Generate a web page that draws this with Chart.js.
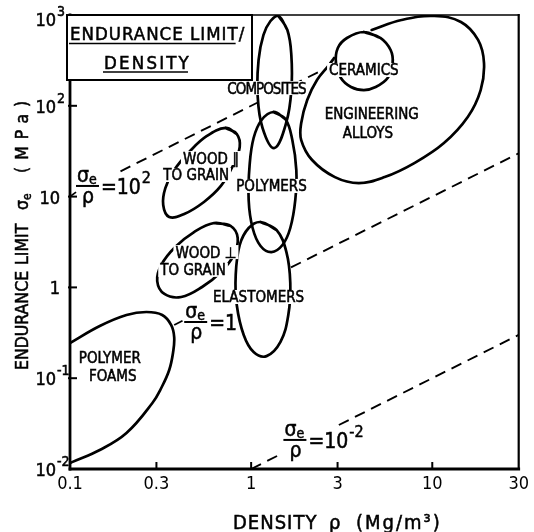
<!DOCTYPE html>
<html>
<head>
<meta charset="utf-8">
<script src="https://cdn.jsdelivr.net/npm/chart.js@4.4.1/dist/chart.umd.min.js"></script>
<style>
  html, body { margin: 0; background: #fff; }
  #wrap { width: 534px; height: 532px; }
</style>
</head>
<body>
<div id="wrap"><canvas id="ashby" width="534" height="532"></canvas></div>
<script>
// outline points of each material class, [density Mg/m^3, endurance limit MPa]
const polymerFoams = [[0.1, 0.244], [0.146, 0.376], [0.205, 0.497], [0.264, 0.536], [0.323, 0.497], [0.362, 0.385],
  [0.376, 0.284], [0.371, 0.194], [0.353, 0.123], [0.319, 0.078], [0.285, 0.0533], [0.205, 0.0249],
  [0.146, 0.0162], [0.1026, 0.0119], [0.1, 0.0116]];
const composites = [[1.416, 975], [1.585, 684], [1.667, 362], [1.667, 149], [1.566, 66.4], [1.345, 34.3],
  [1.156, 57], [1.086, 131], [1.099, 319], [1.17, 603], [1.279, 859]];
const polymers = [[1.328, 85.5], [1.545, 71.6], [1.688, 42.0], [1.776, 19.6], [1.753, 9.18], [1.645, 4.51],
  [1.489, 2.93], [1.295, 2.45], [1.127, 2.86], [1.019, 4.51], [0.969, 9.18], [0.981, 22.3], [1.032, 44.2], [1.142, 69.8]];
const elastomers = [[1.127, 5.25], [1.38, 4.29], [1.566, 2.45], [1.645, 1.117], [1.604, 0.497], [1.452, 0.251],
  [1.216, 0.175], [1.032, 0.194], [0.91, 0.299], [0.833, 0.64], [0.822, 1.37], [0.865, 2.93], [0.969, 4.51]];
const woodParallel = [[0.724, 57.0], [0.833, 48.9], [0.865, 35.2], [0.792, 21.7], [0.681, 13.1], [0.549, 8.73],
  [0.427, 6.43], [0.353, 5.96], [0.327, 8.08], [0.336, 12.4], [0.376, 19.6], [0.455, 31.0], [0.57, 46.5]];
const woodPerpendicular = [[0.624, 5.12], [0.773, 4.74], [0.843, 3.5], [0.802, 2.27], [0.681, 1.48], [0.536, 1.01],
  [0.411, 0.784], [0.332, 0.846], [0.303, 1.175], [0.319, 1.77], [0.381, 2.79], [0.484, 4.07]];
const ceramics = [[4.19, 650], [5.19, 558], [5.89, 412], [6.04, 296], [5.67, 202], [4.87, 161], [4.19, 149],
  [3.56, 161], [3.13, 202], [2.94, 296], [3.01, 433], [3.38, 558]];
const engAlloys = [[4.63, 684], [6.76, 881], [10.26, 975], [14.4, 837], [17.9, 531], [19.3, 296], [18.5, 149],
  [15.7, 75.3], [11.6, 38.9], [7.96, 23.4], [5.46, 16.4], [3.93, 14.1], [2.9, 16.4], [2.17, 25.3], [1.89, 42.0],
  [1.89, 64.7], [2.04, 116], [2.31, 192], [2.69, 281], [2.87, 336]];

// guide lines sigma_e / rho = const, drawn over the density spans where they show
const guideRatios = [100, 1, 0.01];
const guideSpans = [[[0.19, 1.08], [1.68, 2.5]], [[1.66, 30]], [[1, 1.45], [3.05, 30]]];
// ratio labels: bar anchor [density, endurance], right-hand side, exponent
const ratioLabels = [[0.1079, 13.1, '=10', '2'], [0.427, 0.416, '=1', ''], [1.507, 0.0209, '=10', '-2']];
const leaders = [[[0.1, 10], [0.108, 11.2]], [[0.376, 0.385], [0.418, 0.43]]];

const xTicks = [0.1, 0.3, 1, 3, 10, 30];
const yTicks = [0.01, 0.1, 1, 10, 100, 1000];
const yTickText = [['10', '-2'], ['10', '-1'], ['1', ''], ['10', ''], ['10', '2'], ['10', '3']];

const classLabels = [
  ['COMPOSITES', 1.216, 157], ['CERAMICS', 4.19, 248], ['ENGINEERING', 4.63, 83.3], ['ALLOYS', 4.41, 51.4],
  ['POLYMERS', 1.295, 13.1], ['ELASTOMERS', 1.099, 0.784], ['WOOD \u2225', 0.6, 26.6], ['TO GRAIN', 0.497, 17.3],
  ['WOOD \u22A5', 0.563, 2.45], ['TO GRAIN', 0.478, 1.56], ['POLYMER', 0.166, 0.171], ['FOAMS', 0.172, 0.108]
];

const FONT = '"DejaVu Sans Condensed", "DejaVu Sans", sans-serif';
const toXY = pts => pts.map(p => ({x: p[0], y: p[1]}));
// repeat the first two points so the spline closes smoothly
const closed = pts => toXY([...pts, pts[0], pts[1]]);

const outline = (data) => ({
  data, showLine: true, pointRadius: 0, borderColor: '#000', borderWidth: 2.7,
  tension: 0.4, borderCapStyle: 'round', borderJoinStyle: 'round', fill: false
});

const datasets = [
  outline(toXY(polymerFoams)),
  outline(closed(composites)),
  outline(closed(polymers)),
  outline(closed(elastomers)),
  outline(closed(woodParallel)),
  outline(closed(woodPerpendicular)),
  outline(closed(ceramics)),
  outline(toXY(engAlloys))
];
guideRatios.forEach((c, i) => {
  for (const [a, b] of guideSpans[i]) {
    datasets.push({
      data: [{x: a, y: c * a}, {x: b, y: c * b}], showLine: true, pointRadius: 0,
      borderColor: '#000', borderWidth: 1.9, borderDash: [11, 7], tension: 0
    });
  }
});
for (const l of leaders) {
  datasets.push({data: toXY(l), showLine: true, pointRadius: 0, borderColor: '#000', borderWidth: 1.8, tension: 0});
}

// filled text with a hairline stroke, a bit heavier than the plain face
function ink(ctx, text, x, y) {
  ctx.fillText(text, x, y);
  ctx.lineWidth = 0.5;
  ctx.strokeText(text, x, y);
}

function drawRatio(ctx, x, y, rhs, exp) {
  ctx.save();
  ctx.fillStyle = '#000';
  ctx.strokeStyle = '#000';
  ctx.textAlign = 'left';
  ctx.textBaseline = 'alphabetic';
  ctx.font = '21px ' + FONT;
  ink(ctx, '\u03C3', x + 1, y - 4);
  const sw = ctx.measureText('\u03C3').width;
  ctx.font = '14px ' + FONT;
  ink(ctx, 'e', x + 1 + sw, y - 2);
  ctx.lineWidth = 2;
  ctx.beginPath();
  ctx.moveTo(x, y);
  ctx.lineTo(x + 23, y);
  ctx.stroke();
  ctx.font = '21px ' + FONT;
  ctx.textAlign = 'center';
  ink(ctx, '\u03C1', x + 12, y + 17);
  ctx.textAlign = 'left';
  const tx = x + 25;
  ink(ctx, rhs, tx, y + 8);
  if (exp) {
    const w = ctx.measureText(rhs).width;
    ctx.font = '16px ' + FONT;
    ink(ctx, exp, tx + w + 1, y - 3);
  }
  ctx.restore();
}

const decorations = {
  id: 'decorations',
  afterDatasetsDraw(chart) {
    const {ctx, scales: {x, y}} = chart;
    ctx.save();
    ctx.font = '15px ' + FONT;
    ctx.textAlign = 'center';
    ctx.textBaseline = 'alphabetic';
    ctx.strokeStyle = '#000';
    for (const [text, rx, ry] of classLabels) {
      const px = x.getPixelForValue(rx);
      const py = y.getPixelForValue(ry);
      ctx.letterSpacing = text === 'COMPOSITES' ? '-1px' : '0px';
      const w = ctx.measureText(text).width;
      ctx.fillStyle = '#fff';
      ctx.fillRect(px - w / 2 - 2, py - 7, w + 4, 14);
      ctx.fillStyle = '#000';
      ink(ctx, text, px, py + 5.5);
    }
    ctx.letterSpacing = '0px';
    ctx.restore();
    for (const [rx, ry, rhs, exp] of ratioLabels) {
      drawRatio(ctx, x.getPixelForValue(rx), y.getPixelForValue(ry), rhs, exp);
    }
  },
  afterDraw(chart) {
    const {ctx, chartArea: a, scales: {x, y}} = chart;
    ctx.save();
    ctx.strokeStyle = '#000';
    ctx.fillStyle = '#000';
    // frame
    ctx.lineCap = 'square';
    const side = (w, x1, y1, x2, y2) => {
      ctx.lineWidth = w;
      ctx.beginPath(); ctx.moveTo(x1, y1); ctx.lineTo(x2, y2); ctx.stroke();
    };
    side(2.8, a.left, a.top, a.left, a.bottom);
    side(2.8, a.left, a.bottom, a.right, a.bottom);
    side(2.2, a.right, a.top, a.right, a.bottom);
    side(1.5, a.left, a.top, a.right, a.top);
    // inward tick marks
    ctx.lineCap = 'butt';
    for (const v of xTicks.slice(1, -1)) {
      const px = x.getPixelForValue(v);
      side(2, px, a.bottom, px, a.bottom - 7);
    }
    for (const v of yTicks.slice(1, -1)) {
      const py = y.getPixelForValue(v);
      side(2, a.left - 2, py, a.left + 7, py);
    }
    // y tick labels with superscript exponents
    ctx.textBaseline = 'alphabetic';
    yTicks.forEach((v, i) => {
      const py = y.getPixelForValue(v);
      const [base, exp] = yTickText[i];
      const drop = i === yTicks.length - 1 ? 11 : 7;
      ctx.font = '18px ' + FONT;
      ctx.textAlign = 'right';
      const right = exp ? 56 : 60;
      ink(ctx, base, right, py + drop);
      if (exp) {
        ctx.font = '14px ' + FONT;
        ctx.textAlign = 'left';
        ink(ctx, exp, right + 1, py + drop - 10);
      }
    });
    // axis titles
    ctx.textAlign = 'left';
    ctx.font = '20px ' + FONT;
    ctx.letterSpacing = '1px';
    ink(ctx, 'DENSITY', 233, 529);
    ctx.letterSpacing = '0px';
    ink(ctx, '\u03C1', 329, 529);
    ctx.letterSpacing = '2px';
    ink(ctx, '(Mg/m\u00B3)', 356, 529);
    ctx.letterSpacing = '0px';

    ctx.save();
    ctx.translate(28, 370);
    ctx.rotate(-Math.PI / 2);
    ctx.font = '17.5px ' + FONT;
    ink(ctx, 'ENDURANCE', 0, 0);
    ink(ctx, 'LIMIT', 105, 0);
    ink(ctx, '\u03C3', 160, 0);
    const sw = ctx.measureText('\u03C3').width;
    ctx.font = '12px ' + FONT;
    ink(ctx, 'e', 160 + sw, 3);
    ctx.font = '17.5px ' + FONT;
    ctx.letterSpacing = '7px';
    ink(ctx, '(MPa)', 197, 0);
    ctx.letterSpacing = '0px';
    ctx.restore();

    // title box
    const bx = a.left - 3, by = a.top, bw = 252 - bx, bh = 80 - by;
    ctx.fillStyle = '#fff';
    ctx.fillRect(bx, by, bw, bh);
    ctx.lineWidth = 2;
    ctx.strokeRect(bx, by, bw, bh);
    ctx.fillStyle = '#000';
    ctx.font = '18.5px ' + FONT;
    ctx.letterSpacing = '1px';
    ink(ctx, 'ENDURANCE LIMIT', 70, 40);
    const w1 = ctx.measureText('ENDURANCE LIMIT').width;
    ink(ctx, '/', 70 + w1, 40);
    ctx.letterSpacing = '2.2px';
    ink(ctx, 'DENSITY', 104, 68.5);
    const w2 = ctx.measureText('DENSITY').width;
    ctx.letterSpacing = '0px';
    side(1.5, 69, 43.5, 69 + w1 - 2, 43.5);
    side(1.5, 103, 72, 103 + w2 - 2, 72);
    ctx.restore();
  }
};

new Chart(document.getElementById('ashby'), {
  type: 'scatter',
  data: {datasets},
  options: {
    responsive: false,
    animation: false,
    devicePixelRatio: 1,
    layout: {padding: {top: 15, right: 12, left: 0, bottom: 0}},
    plugins: {legend: {display: false}, tooltip: {enabled: false}},
    scales: {
      x: {
        type: 'logarithmic', min: 0.1, max: 30,
        afterBuildTicks: s => { s.ticks = xTicks.map(v => ({value: v})); },
        afterFit: s => { s.height = 63; },
        grid: {display: false, drawTicks: false},
        border: {display: false},
        ticks: {
          autoSkip: false, maxRotation: 0, padding: 5, color: '#000',
          font: {family: FONT, size: 18},
          callback: v => String(v)
        }
      },
      y: {
        type: 'logarithmic', min: 0.01, max: 1000,
        afterBuildTicks: s => { s.ticks = yTicks.map(v => ({value: v})); },
        afterFit: s => { s.width = 70; },
        grid: {display: false, drawTicks: false},
        border: {display: false},
        ticks: {display: false}
      }
    }
  },
  plugins: [decorations]
});
</script>
</body>
</html>
